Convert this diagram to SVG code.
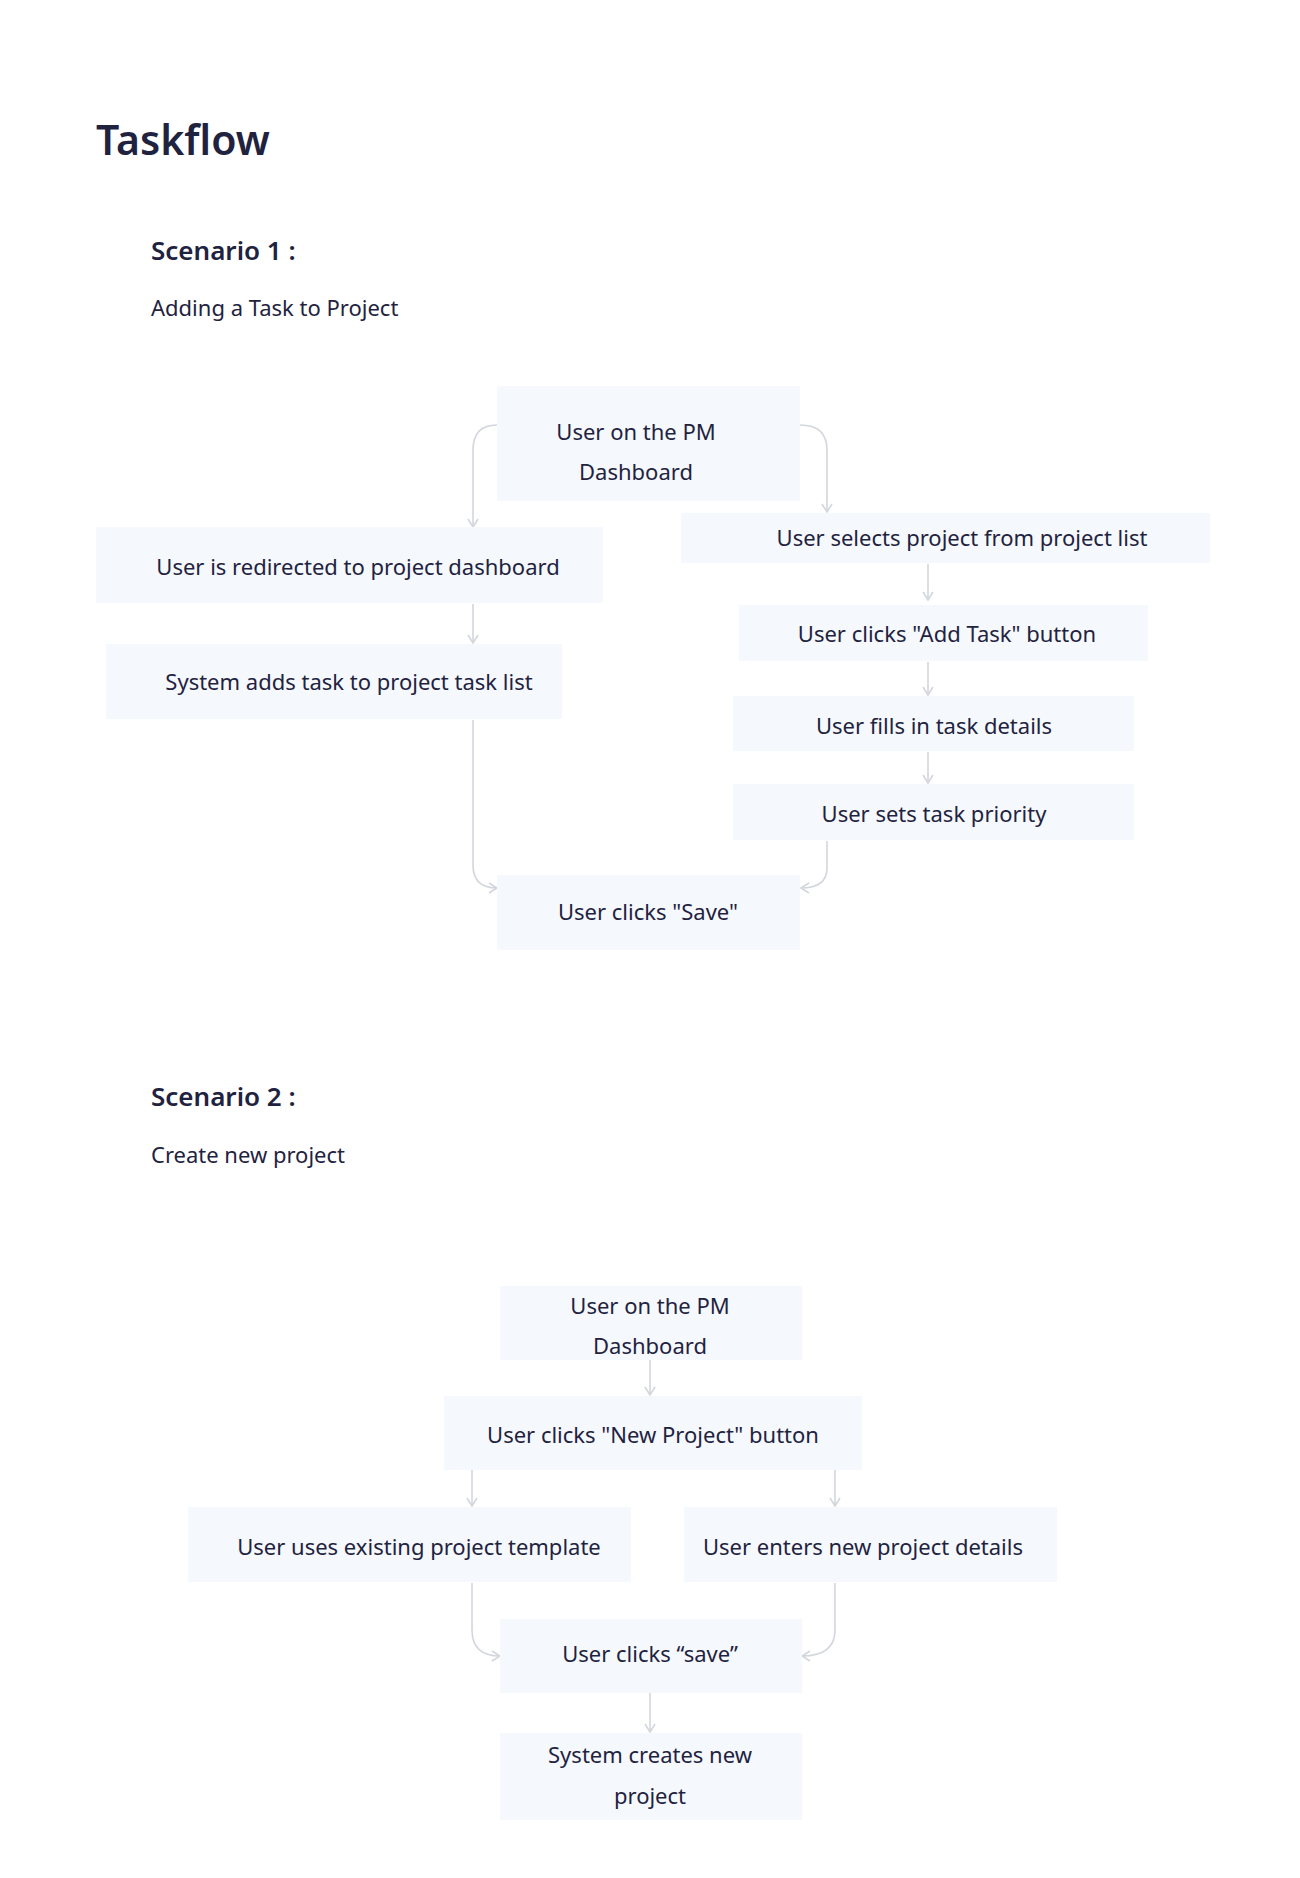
<svg xmlns="http://www.w3.org/2000/svg" width="1300" height="1878" viewBox="0 0 1300 1878">
<style>
.n{fill:#f5f8fd}
.t{font-family:"Noto Sans","Liberation Sans",sans-serif;font-size:22px;fill:#1f2340;text-anchor:middle;dominant-baseline:central}
.h{font-family:"Noto Sans","Liberation Sans",sans-serif;fill:#1f2340}
.c{fill:none;stroke:#d3d6dc;stroke-width:1.6;marker-end:url(#a)}
</style>
<defs><marker id="a" viewBox="0 0 12 12" refX="10" refY="6" markerWidth="12" markerHeight="12" markerUnits="userSpaceOnUse" orient="auto"><path d="M2 1 L10 6 L2 11" fill="none" stroke="#d3d6dc" stroke-width="1.6"/></marker></defs>
<rect width="1300" height="1878" fill="#fff"/>
<text class="h" x="96" y="155" font-size="41" font-weight="600">Taskflow</text>
<text class="h" x="151" y="260" font-size="26" font-weight="600">Scenario 1 :</text>
<text class="h" x="151" y="316" font-size="22">Adding a Task to Project</text>
<text class="h" x="151" y="1106" font-size="26" font-weight="600">Scenario 2 :</text>
<text class="h" x="151" y="1163" font-size="22">Create new project</text>
<g id="connectors">
<path class="c" d="M497 425 Q473 425 473 450 L473 527"/>
<path class="c" d="M800 425 Q827 425 827 450 L827 512"/>
<path class="c" d="M473 604 L473 643"/>
<path class="c" d="M473 720 L473 865 Q473 888 497 888"/>
<path class="c" d="M827 841 L827 868 Q827 888 801 888"/>
<path class="c" d="M928 564 L928 600"/>
<path class="c" d="M928 662 L928 695"/>
<path class="c" d="M928 752 L928 783"/>
<path class="c" d="M650 1360 L650 1395"/>
<path class="c" d="M482 1442 Q472 1448 472 1470 L472 1506"/>
<path class="c" d="M826 1442 Q835 1448 835 1470 L835 1506"/>
<path class="c" d="M472 1583 L472 1630 Q472 1656 500 1656"/>
<path class="c" d="M835 1583 L835 1630 Q835 1656 802 1656"/>
<path class="c" d="M650 1693 L650 1732"/>
</g>
<g id="s1-top"><rect class="n" x="497" y="386" width="303" height="115"/><text class="t" x="636" y="431">User on the PM</text><text class="t" x="636" y="471">Dashboard</text></g>
<g id="s1-redirect"><rect class="n" x="96" y="527" width="507" height="76"/><text class="t" x="358" y="566">User is redirected to project dashboard</text></g>
<g id="s1-select"><rect class="n" x="681" y="513" width="529" height="50"/><text class="t" x="962" y="537">User selects project from project list</text></g>
<g id="s1-system"><rect class="n" x="106" y="644" width="456" height="75"/><text class="t" x="349" y="681">System adds task to project task list</text></g>
<g id="s1-addtask"><rect class="n" x="739" y="605" width="409" height="56"/><text class="t" x="947" y="633">User clicks "Add Task" button</text></g>
<g id="s1-fills"><rect class="n" x="733" y="696" width="401" height="55"/><text class="t" x="934" y="725">User fills in task details</text></g>
<g id="s1-priority"><rect class="n" x="733" y="784" width="401" height="56"/><text class="t" x="934" y="813">User sets task priority</text></g>
<g id="s1-save"><rect class="n" x="497" y="875" width="303" height="75"/><text class="t" x="648" y="911">User clicks "Save"</text></g>
<g id="s2-top"><rect class="n" x="500" y="1286" width="302" height="74"/><text class="t" x="650" y="1305">User on the PM</text><text class="t" x="650" y="1345">Dashboard</text></g>
<g id="s2-new"><rect class="n" x="444" y="1396" width="418" height="74"/><text class="t" x="653" y="1434">User clicks "New Project" button</text></g>
<g id="s2-existing"><rect class="n" x="188" y="1507" width="443" height="75"/><text class="t" x="419" y="1546">User uses existing project template</text></g>
<g id="s2-enters"><rect class="n" x="684" y="1507" width="373" height="75"/><text class="t" x="863" y="1546">User enters new project details</text></g>
<g id="s2-save"><rect class="n" x="500" y="1619" width="302" height="74"/><text class="t" x="650" y="1653">User clicks “save”</text></g>
<g id="s2-creates"><rect class="n" x="500" y="1733" width="302" height="87"/><text class="t" x="650" y="1754">System creates new</text><text class="t" x="650" y="1795">project</text></g>
</svg>
